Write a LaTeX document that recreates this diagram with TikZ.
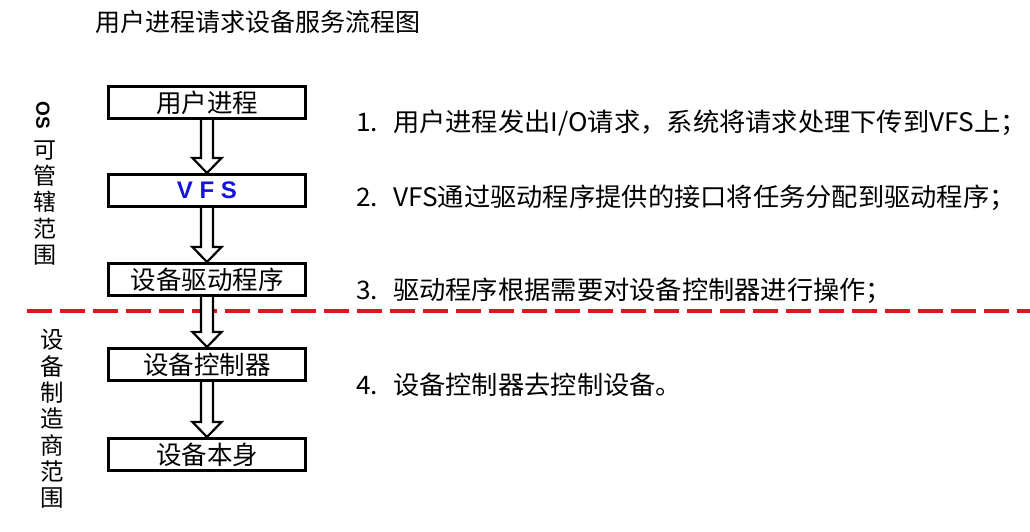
\documentclass[tikz,border=0pt]{standalone}
\usepackage{fontspec}
\setmainfont{Noto Sans CJK SC}
\newfontfamily\narrowfont[FakeStretch=1.03]{Noto Sans CJK SC}
\newfontfamily\latinfont{Liberation Sans}
\usetikzlibrary{calc}
\definecolor{dashred}{RGB}{226,20,30}
\definecolor{vfsblue}{RGB}{20,20,220}

\tikzset{
  procbox/.style={draw, line width=3pt, minimum width=197pt, minimum height=32pt,
    inner sep=0pt, font=\fontsize{25.5}{25.5}\selectfont},
  arrowline/.style={draw, line width=2.2pt, fill=white, line join=miter},
  itemtext/.style={anchor=west, inner sep=0pt, font=\narrowfont\fontsize{25.5}{25.5}\selectfont},
  sidetext/.style={align=center, inner sep=0pt},
}
% hollow block arrow from the bottom of #1 to the top of #2
\newcommand{\hollowarrow}[2]{%
  \draw[arrowline] ($(#1.south)+(-6,0)$) -- ($(#2.north)+(-6,-15)$)
    -- ($(#2.north)+(-14.5,-15)$) -- (#2.north) -- ($(#2.north)+(14.5,-15)$)
    -- ($(#2.north)+(6,-15)$) -- ($(#1.south)+(6,0)$);}

\begin{document}
\begin{tikzpicture}[x=1pt,y=-1pt]
    \useasboundingbox (0,0) rectangle (1030,531);
    % Title
    \node[anchor=west, inner sep=0pt, font=\fontsize{25}{25}\selectfont] (title) at (95,22) {用户进程请求设备服务流程图};
    % Side labels
    \node[rotate=-90, inner sep=0pt, font=\latinfont\bfseries\fontsize{19}{19}\selectfont] (os) at (43,115) {OS};
    \node[sidetext, font=\fontsize{23}{26.2}\selectfont] (osrange) at (45,203) {可\\管\\辖\\范\\围};
    \node[sidetext, font=\fontsize{23.5}{26.3}\selectfont] (makerrange) at (52,419) {设\\备\\制\\造\\商\\范\\围};
    % Boundary between OS and device maker
    \coordinate (cutL) at (27,311);
    \coordinate (cutR) at (1030,311);
    \draw[dashred, line width=4pt, dash pattern=on 25pt off 8pt] (cutL) -- (cutR);
    % Boxes
    \node[procbox] (user) at (207,102.5) {用户进程};
    \node[procbox, text=vfsblue, font=\latinfont\bfseries\fontsize{24}{24}\selectfont] (vfs) at (207,190.5) {V F S};
    \node[procbox] (driver) at (207,279.5) {设备驱动程序};
    \node[procbox] (ctrl) at (207,364.5) {设备控制器};
    \node[procbox] (dev) at (207,454.5) {设备本身};
    % Arrows
    \hollowarrow{user}{vfs}
    \hollowarrow{vfs}{driver}
    \hollowarrow{driver}{ctrl}
    \hollowarrow{ctrl}{dev}
    % Steps
    \node[itemtext] (step1) at (356,123) {\makebox[37pt][l]{1.}用户进程发出I/O请求，系统将请求处理下传到VFS上；};
    \node[itemtext] (step2) at (356,198) {\makebox[37pt][l]{2.}VFS通过驱动程序提供的接口将任务分配到驱动程序；};
    \node[itemtext] (step3) at (356,291) {\makebox[37pt][l]{3.}驱动程序根据需要对设备控制器进行操作；};
    \node[itemtext] (step4) at (356,385) {\makebox[37pt][l]{4.}设备控制器去控制设备。};
\end{tikzpicture}
\end{document}
